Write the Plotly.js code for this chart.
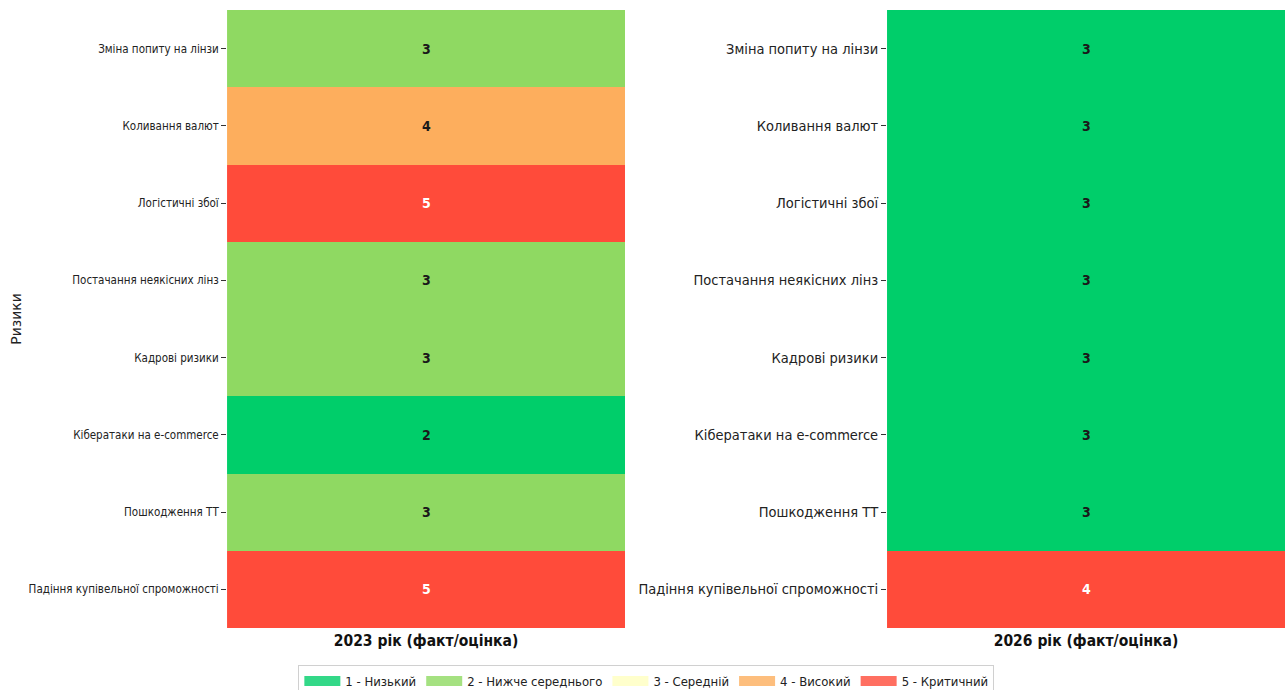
<!DOCTYPE html>
<html>
<head>
<meta charset="utf-8">
<script src="https://cdn.plot.ly/plotly-3.0.1.min.js"></script>
<style>html,body{margin:0;padding:0;background:#fff;}</style>
</head>
<body>
<div id="chart" style="width:1285px;height:690px;"></div>
<script>
// Risk register: scores per period (1 = low ... 5 = critical)
const risks = [
  'Зміна попиту на лінзи',
  'Коливання валют',
  'Логістичні збої',
  'Постачання неякісних лінз',
  'Кадрові ризики',
  'Кібератаки на e-commerce',
  'Пошкодження ТТ',
  'Падіння купівельної спроможності'
];
const scores2023 = [3, 4, 5, 3, 3, 2, 3, 5];
const scores2026 = [3, 3, 3, 3, 3, 3, 3, 4];
const periodTitles = ['2023 рік (факт/оцінка)', '2026 рік (факт/оцінка)'];
const levelLabels = ['1 - Низький', '2 - Нижче середнього', '3 - Середній', '4 - Високий', '5 - Критичний'];
const levelColors = ['#00CE6A', '#8FD962', '#FFFFBF', '#FDAE5D', '#FF4B3A'];

const FONT = 'DejaVu Sans Condensed, DejaVu Sans, sans-serif';

// Discrete colour steps over each panel's own min..max
function stepScale(colors) {
  const n = colors.length, s = [];
  colors.forEach((c, i) => { s.push([i / n, c]); s.push([(i + 1) / n, c]); });
  return s;
}
function hexRgb(h) {
  return [1, 3, 5].map(i => parseInt(h.slice(i, i + 2), 16));
}
function luminance(h) {
  const lin = hexRgb(h).map(v => { v /= 255; return v <= 0.03928 ? v / 12.92 : Math.pow((v + 0.055) / 1.055, 2.4); });
  return 0.2126 * lin[0] + 0.7152 * lin[1] + 0.0722 * lin[2];
}
function cellColor(v, lo, hi) {
  const n = levelColors.length;
  const t = hi > lo ? (v - lo) / (hi - lo) : 0;
  return levelColors[Math.min(n - 1, Math.floor(t * n))];
}

const panels = [
  {scores: scores2023, xa: 'x', ya: 'y', title: periodTitles[0]},
  {scores: scores2026, xa: 'x2', ya: 'y2', title: periodTitles[1]}
];

const traces = [];
const annotations = [];
panels.forEach(p => {
  const lo = Math.min(...p.scores), hi = Math.max(...p.scores);
  traces.push({
    type: 'heatmap',
    x: [0],
    y: risks,
    z: p.scores.map(v => [v]),
    zmin: lo, zmax: hi,
    colorscale: stepScale(levelColors),
    showscale: false,
    xaxis: p.xa, yaxis: p.ya,
    hoverinfo: 'y+z'
  });
  p.scores.forEach((v, i) => {
    const bg = cellColor(v, lo, hi);
    annotations.push({
      xref: p.xa, yref: p.ya, x: 0, y: risks[i],
      text: '<b>' + v + '</b>', showarrow: false,
      font: {family: FONT, size: 14, color: luminance(bg) < 0.408 ? '#ffffff' : '#1a1a1a'}
    });
  });
});

// Legend entries for the five risk levels
levelLabels.forEach((lab, i) => {
  traces.push({
    type: 'scatter', mode: 'lines', x: [null], y: [null],
    name: lab, xaxis: 'x', yaxis: 'y',
    line: {color: levelColors[i], width: 10}, opacity: 0.8,
    hoverinfo: 'skip'
  });
});

const xBase = {
  range: [-0.5, 0.5], showticklabels: false, ticks: '', showgrid: false,
  zeroline: false, showline: false, fixedrange: true, automargin: false
};
const yBase = {
  type: 'category', autorange: 'reversed', showgrid: false, zeroline: false,
  showline: false, ticks: 'outside', ticklen: 5, tickcolor: '#333', automargin: false,
  tickfont: {family: FONT, color: '#222'}
};

const layout = {
  width: 1285, height: 690,
  margin: {l: 0, r: 0, t: 10, b: 62},
  paper_bgcolor: '#ffffff', plot_bgcolor: '#ffffff',
  font: {family: FONT, color: '#222'},
  xaxis: Object.assign({}, xBase, {domain: [0.1767, 0.4864],
    title: {text: '<b>' + periodTitles[0] + '</b>', font: {family: FONT, size: 15.5, color: '#111'}, standoff: 7}}),
  xaxis2: Object.assign({}, xBase, {domain: [0.6903, 1.0], anchor: 'y2',
    title: {text: '<b>' + periodTitles[1] + '</b>', font: {family: FONT, size: 15.5, color: '#111'}, standoff: 7}}),
  yaxis: Object.assign({}, yBase, {domain: [0, 1], anchor: 'x',
    tickfont: {family: FONT, size: 11.5, color: '#222'},
    title: {text: 'Ризики', font: {family: 'DejaVu Sans, sans-serif', size: 14, color: '#222'}, standoff: 3}}),
  yaxis2: Object.assign({}, yBase, {domain: [0, 1], anchor: 'x2',
    tickfont: {family: FONT, size: 14.5, color: '#222'}}),
  showlegend: true,
  legend: {
    orientation: 'h', x: 0.503, xanchor: 'center',
    yref: 'container', y: 0.036, yanchor: 'top',
    itemwidth: 36,
    bordercolor: '#d0d0d0', borderwidth: 1, bgcolor: '#ffffff',
    font: {family: FONT, size: 13, color: '#222'}
  },
  annotations: annotations
};

Plotly.newPlot('chart', traces, layout, {displayModeBar: false, staticPlot: true});
</script>
</body>
</html>
